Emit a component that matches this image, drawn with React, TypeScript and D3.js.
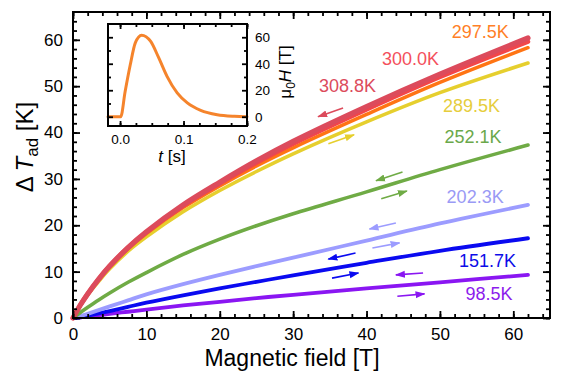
import React, { useEffect, useRef } from 'react';
import * as d3 from 'd3';

// field points of the sweeps [T]
const fieldPoints = [0, 1, 2, 3.5, 5, 7.5, 10, 15, 20, 25, 30, 40, 50, 62];

// adiabatic temperature change [K]
const dT308 = [0, 2.8, 5.2, 8.4, 11.2, 15.2, 18.6, 24.4, 29.3, 33.9, 38.1, 45.6, 52.6, 60.4];
const dT300 = [0, 2.8, 5.2, 8.4, 11.2, 15.2, 18.5, 24.2, 29.0, 33.5, 37.6, 45.0, 52.0, 59.6];
const dT297 = [0, 2.8, 5.1, 8.2, 11.0, 14.9, 18.2, 23.8, 28.5, 32.8, 36.7, 43.9, 50.8, 58.3];
const dT289 = [0, 2.7, 5.0, 7.9, 10.6, 14.4, 17.5, 22.9, 27.5, 31.6, 35.4, 42.3, 48.6, 55.0];
const dT252 = [0, 1.2, 2.3, 3.9, 5.4, 7.7, 9.8, 13.7, 17.0, 19.9, 22.5, 27.2, 32.0, 37.3];
const dT202 = [0, 0.4, 0.9, 1.7, 2.5, 3.8, 5.1, 7.3, 9.3, 11.2, 13.0, 16.7, 20.4, 24.4];
const dT151 = [0, 0.2, 0.5, 1.0, 1.5, 2.4, 3.3, 4.9, 6.4, 7.8, 9.2, 11.9, 14.5, 17.2];
const dT98 = [0, 0.1, 0.3, 0.6, 0.9, 1.35, 1.8, 2.7, 3.5, 4.3, 5.0, 6.4, 7.7, 9.3];

const temperatures = ['98.5K', '151.7K', '202.3K', '252.1K', '289.5K', '297.5K', '300.0K', '308.8K'];
const seriesValues = [dT98, dT151, dT202, dT252, dT289, dT297, dT300, dT308];
const lineColors = ['#8a16f2', '#0a0af0', '#9c9cff', '#6fab45', '#e6cf2e', '#ff7414', '#f2464a', '#dc4b5c'];
const labelColors = ['#8c1cec', '#0c0ce8', '#9a9af5', '#6aa84a', '#e6cd3c', '#ff7f27', '#f4505c', '#dc4b5c'];
const lineWidths = [3.8, 3.8, 3.8, 3.6, 3.6, 3.5, 4.5, 5.2];

// label anchors [field, dT]
const labelField = [56.7, 56.5, 54.8, 54.5, 54.3, 55.5, 46, 37.4];
const labelDT = [3.9, 11.0, 24.8, 37.8, 44.5, 60.4, 54.6, 48.8];

// sweep direction arrows
const arrowSeries = ['308.8K', '289.5K', '252.1K', '252.1K', '202.3K', '202.3K', '151.7K', '151.7K', '98.5K', '98.5K'];
const arrowFrom = [[36.8, 45.3], [34.8, 37.6], [44.9, 31.5], [42, 25.7], [44, 20.5], [40.8, 15.1], [38.5, 14.0], [35.3, 8.6], [47.7, 9.7], [44.2, 4.7]];
const arrowTo = [[33.4, 43.4], [38.3, 39.5], [41.3, 29.6], [45.5, 27.4], [40.4, 19.2], [44.5, 16.2], [34.8, 12.7], [38.9, 9.7], [44, 9.3], [47.9, 5.2]];

// inset: field pulse
const pulseTime = [-0.019, 0.0, 0.001, 0.008, 0.016, 0.024, 0.034, 0.048, 0.061, 0.074, 0.09, 0.106, 0.127, 0.153, 0.18, 0.2];
const pulseField = [0, 0, 0, 19, 39, 55.8, 61.6, 57, 44.4, 30.5, 18, 10.4, 4.8, 1.5, 0.3, 0];

const mainXTicks = [0, 10, 20, 30, 40, 50, 60];
const mainYTicks = [0, 10, 20, 30, 40, 50, 60];
const insetXTicks = [0, 0.1, 0.2];
const insetYTicks = [0, 20, 40, 60];

const FONT = 'Liberation Sans, Arial, Helvetica, sans-serif';

const App = () => {
  const ref = useRef<SVGSVGElement>(null);

  useEffect(() => {
    const svg = d3.select(ref.current);
    svg.selectAll('*').remove();

    const x = d3.scaleLinear().domain([0, 65]).range([73, 550]);
    const y = d3.scaleLinear().domain([0, 66]).range([318, 12]);

    const defs = svg.append('defs');
    temperatures.forEach((t, i) => {
      defs.append('marker')
        .attr('id', `head${i}`)
        .attr('viewBox', '0 0 10 8')
        .attr('refX', 9)
        .attr('refY', 4)
        .attr('markerWidth', 10)
        .attr('markerHeight', 8)
        .attr('markerUnits', 'userSpaceOnUse')
        .attr('orient', 'auto')
        .append('path')
        .attr('d', 'M0,0.5 L10,4 L0,7.5 Z')
        .attr('fill', lineColors[i]);
    });

    // curves
    const line = d3.line<number>()
      .x((_, i) => x(fieldPoints[i]))
      .y(d => y(d))
      .curve(d3.curveCatmullRom.alpha(0.5));

    seriesValues.forEach((vals, i) => {
      svg.append('path')
        .attr('d', line(vals))
        .attr('fill', 'none')
        .attr('stroke', lineColors[i])
        .attr('stroke-width', lineWidths[i])
        .attr('stroke-linecap', 'round');
    });

    // arrows
    arrowSeries.forEach((name, i) => {
      const k = temperatures.indexOf(name);
      svg.append('line')
        .attr('x1', x(arrowFrom[i][0]))
        .attr('y1', y(arrowFrom[i][1]))
        .attr('x2', x(arrowTo[i][0]))
        .attr('y2', y(arrowTo[i][1]))
        .attr('stroke', lineColors[k])
        .attr('stroke-width', 1.6)
        .attr('marker-end', `url(#head${k})`);
    });

    // labels
    temperatures.forEach((t, i) => {
      svg.append('text')
        .attr('x', x(labelField[i]))
        .attr('y', y(labelDT[i]))
        .attr('text-anchor', 'middle')
        .attr('font-family', FONT)
        .attr('font-size', 18)
        .attr('fill', labelColors[i])
        .text(t);
    });

    // frame + ticks
    const styleAxis = (g: any, size: number) => {
      g.select('.domain').remove();
      g.attr('font-family', FONT).attr('font-size', size);
      g.selectAll('line').attr('stroke', '#000').attr('stroke-width', 1.8);
      g.selectAll('text').attr('fill', '#000');
    };
    const minorX = d3.range(0, 65, 2);
    const minorY = d3.range(0, 66, 2);

    svg.append('g').attr('transform', 'translate(0,318)')
      .call(d3.axisBottom(x).tickValues(minorX).tickSize(-4).tickFormat(() => ''))
      .call(g => styleAxis(g, 17));
    svg.append('g').attr('transform', 'translate(0,318)')
      .call(d3.axisBottom(x).tickValues(mainXTicks).tickSize(-7).tickPadding(10).tickFormat(d3.format('d')))
      .call(g => styleAxis(g, 17));
    svg.append('g').attr('transform', 'translate(0,12)')
      .call(d3.axisTop(x).tickValues(minorX).tickSize(-4).tickFormat(() => ''))
      .call(g => styleAxis(g, 17));
    svg.append('g').attr('transform', 'translate(0,12)')
      .call(d3.axisTop(x).tickValues(mainXTicks).tickSize(-7).tickFormat(() => ''))
      .call(g => styleAxis(g, 17));
    svg.append('g').attr('transform', 'translate(73,0)')
      .call(d3.axisLeft(y).tickValues(minorY).tickSize(-4).tickFormat(() => ''))
      .call(g => styleAxis(g, 17));
    svg.append('g').attr('transform', 'translate(73,0)')
      .call(d3.axisLeft(y).tickValues(mainYTicks).tickSize(-7).tickPadding(10).tickFormat(d3.format('d')))
      .call(g => styleAxis(g, 17));
    svg.append('g').attr('transform', 'translate(550,0)')
      .call(d3.axisRight(y).tickValues(minorY).tickSize(-4).tickFormat(() => ''))
      .call(g => styleAxis(g, 17));
    svg.append('g').attr('transform', 'translate(550,0)')
      .call(d3.axisRight(y).tickValues(mainYTicks).tickSize(-7).tickFormat(() => ''))
      .call(g => styleAxis(g, 17));

    svg.append('rect')
      .attr('x', 73).attr('y', 12).attr('width', 477).attr('height', 306)
      .attr('fill', 'none').attr('stroke', '#000').attr('stroke-width', 2);

    // axis titles
    svg.append('text')
      .attr('x', 292).attr('y', 366)
      .attr('text-anchor', 'middle')
      .attr('font-family', FONT).attr('font-size', 23)
      .text('Magnetic field [T]');

    const yTitle = svg.append('text')
      .attr('transform', 'translate(33,147) rotate(-90)')
      .attr('text-anchor', 'middle')
      .attr('font-family', FONT).attr('font-size', 24);
    yTitle.append('tspan').text('\u0394\u2009');
    yTitle.append('tspan').attr('font-style', 'italic').text('T');
    yTitle.append('tspan').attr('font-size', 17).attr('dy', 5).text('ad');
    yTitle.append('tspan').attr('dy', -5).text(' [K]');

    // inset
    const ix = d3.scaleLinear().domain([-0.019, 0.2]).range([108, 247]);
    const iy = d3.scaleLinear().domain([-7, 70]).range([126, 24]);

    svg.append('rect')
      .attr('x', 108).attr('y', 24).attr('width', 139).attr('height', 102)
      .attr('fill', '#fff').attr('stroke', 'none');

    const pulse = d3.line<number>()
      .x((_, i) => ix(pulseTime[i]))
      .y(d => iy(d))
      .curve(d3.curveMonotoneX);
    svg.append('path')
      .attr('d', pulse(pulseField))
      .attr('fill', 'none')
      .attr('stroke', '#f5842c')
      .attr('stroke-width', 3)
      .attr('stroke-linecap', 'round');

    const iMinorX = d3.range(0, 0.2001, 0.025);
    const iMinorY = [10, 30, 50];
    svg.append('g').attr('transform', 'translate(0,126)')
      .call(d3.axisBottom(ix).tickValues(iMinorX).tickSize(-3).tickFormat(() => ''))
      .call(g => styleAxis(g, 13.5));
    svg.append('g').attr('transform', 'translate(0,126)')
      .call(d3.axisBottom(ix).tickValues(insetXTicks).tickSize(-5).tickPadding(8).tickFormat(d3.format('.1f')))
      .call(g => styleAxis(g, 13.5));
    svg.append('g').attr('transform', 'translate(0,24)')
      .call(d3.axisTop(ix).tickValues(iMinorX).tickSize(-3).tickFormat(() => ''))
      .call(g => styleAxis(g, 13.5));
    svg.append('g').attr('transform', 'translate(0,24)')
      .call(d3.axisTop(ix).tickValues(insetXTicks).tickSize(-5).tickFormat(() => ''))
      .call(g => styleAxis(g, 13.5));
    svg.append('g').attr('transform', 'translate(108,0)')
      .call(d3.axisLeft(iy).tickValues(iMinorY).tickSize(-3).tickFormat(() => ''))
      .call(g => styleAxis(g, 13.5));
    svg.append('g').attr('transform', 'translate(108,0)')
      .call(d3.axisLeft(iy).tickValues(insetYTicks).tickSize(-5).tickFormat(() => ''))
      .call(g => styleAxis(g, 13.5));
    svg.append('g').attr('transform', 'translate(247,0)')
      .call(d3.axisRight(iy).tickValues(iMinorY).tickSize(-3).tickFormat(() => ''))
      .call(g => styleAxis(g, 13.5));
    svg.append('g').attr('transform', 'translate(247,0)')
      .call(d3.axisRight(iy).tickValues(insetYTicks).tickSize(-5).tickPadding(8).tickFormat(d3.format('d')))
      .call(g => styleAxis(g, 13.5));

    svg.append('rect')
      .attr('x', 108).attr('y', 24).attr('width', 139).attr('height', 102)
      .attr('fill', 'none').attr('stroke', '#000').attr('stroke-width', 2);

    const tTitle = svg.append('text')
      .attr('x', 172).attr('y', 162)
      .attr('text-anchor', 'middle')
      .attr('font-family', FONT).attr('font-size', 17);
    tTitle.append('tspan').attr('font-style', 'italic').text('t');
    tTitle.append('tspan').text(' [s]');

    const hTitle = svg.append('text')
      .attr('transform', 'translate(291,72) rotate(-90)')
      .attr('text-anchor', 'middle')
      .attr('font-family', FONT).attr('font-size', 17);
    hTitle.append('tspan').text('\u03bc');
    hTitle.append('tspan').attr('font-size', 12).attr('dy', 4).text('0');
    hTitle.append('tspan').attr('font-style', 'italic').attr('dy', -4).text('H');
    hTitle.append('tspan').text(' [T]');

    return () => {
      svg.selectAll('*').remove();
    };
  }, []);

  return (
    <svg
      ref={ref}
      width={568}
      height={374}
      style={{ position: 'absolute', left: 0, top: 0, background: '#fff' }}
    />
  );
};

export default App;
